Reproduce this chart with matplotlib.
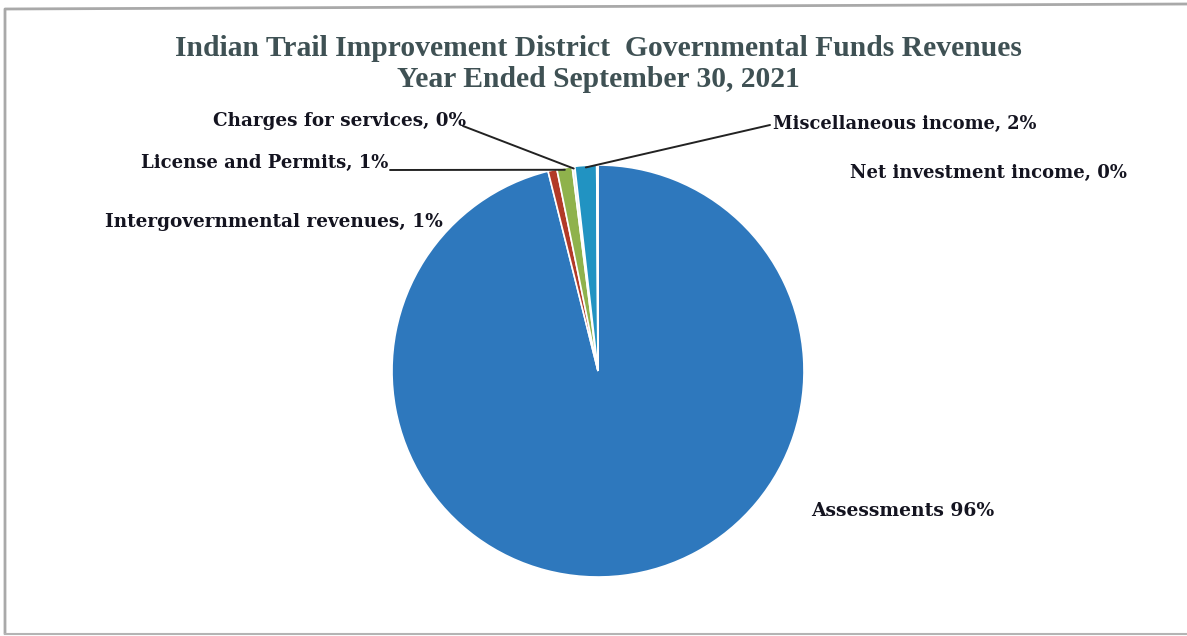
import numpy as np
import matplotlib
matplotlib.use("Agg")
import matplotlib.pyplot as plt
from matplotlib.lines import Line2D

W, H = 1187, 636

# revenue shares (%)
categories = ["Assessments", "Intergovernmental revenues", "License and Permits",
              "Charges for services", "Miscellaneous income", "Net investment income"]
shares = [96.1, 0.7, 1.2, 0.2, 1.7, 0.1]
pct_labels = ["96%", "1%", "1%", "0%", "2%", "0%"]
colors = ["#2e78bd", "#b23a28", "#8fb24c", "#dfe8ee", "#2193c2", "#f4f4f4"]

title = "Indian Trail Improvement District  Governmental Funds Revenues\nYear Ended September 30, 2021"


def fx(px):
    return px / W


def fy(py):
    return 1 - py / H


plt.rcParams['font.family'] = ['Liberation Serif', 'DejaVu Serif']

fig = plt.figure(figsize=(W / 100, H / 100), dpi=100)
fig.patch.set_facecolor("white")

# chart border (scanned: top, left and bottom edges only)
fig.add_artist(Line2D([fx(5), fx(5), fx(1187)], [fy(633), fy(9), fy(4)],
                      transform=fig.transFigure, color="#a9a9a9", lw=2))
fig.add_artist(Line2D([fx(5), fx(1187)], [fy(634), fy(634)],
                      transform=fig.transFigure, color="#b4b4b4", lw=1.5))

cx, cy, r = 598, 371, 206
ax = fig.add_axes([fx(cx - r), fy(cy + r), 2 * r / W, 2 * r / H])
wedges, _ = ax.pie(shares, colors=colors, startangle=90, counterclock=False,
                   radius=1.0, wedgeprops=dict(edgecolor="white", linewidth=1.2))
ax.set_xlim(-1, 1)
ax.set_ylim(-1, 1)
ax.set_aspect("auto")
ax.axis("off")

fig.text(0.504, fy(64), title, ha="center", va="center", fontsize=21.3,
         fontweight="bold", color="#3f5154", linespacing=1.15)

lab_style = dict(fontsize=13, fontweight="bold", color="#141420", family="DejaVu Serif")

# label text positions (pixel, top-left origin), alignment, size, leader line start
label_pos = {
    "Assessments": (811, 511, "left", 13.5, None),
    "Intergovernmental revenues": (443, 222, "right", 13.3, None),
    "License and Permits": (388, 163, "right", 13, (390, 170)),
    "Charges for services": (466, 121, "right", 13.2, (463, 126)),
    "Miscellaneous income": (773, 124, "left", 12.8, (770, 125)),
    "Net investment income": (1127, 173, "right", 13, None),
}

for w, cat, p in zip(wedges, categories, pct_labels):
    x, y, ha, size, lead = label_pos[cat]
    sep = " " if cat == "Assessments" else ", "
    style = dict(lab_style, fontsize=size)
    fig.text(fx(x), fy(y), cat + sep + p, ha=ha, va="center", **style)
    if lead is not None:
        mid = np.deg2rad((w.theta1 + w.theta2) / 2)
        ax.annotate("", xy=(np.cos(mid) * 0.99, np.sin(mid) * 0.99), xycoords="data",
                    xytext=(fx(lead[0]), fy(lead[1])), textcoords="figure fraction",
                    arrowprops=dict(arrowstyle="-", color="#222222", lw=1.4,
                                    shrinkA=0, shrinkB=0))

fig.savefig("out.png", dpi=100)
